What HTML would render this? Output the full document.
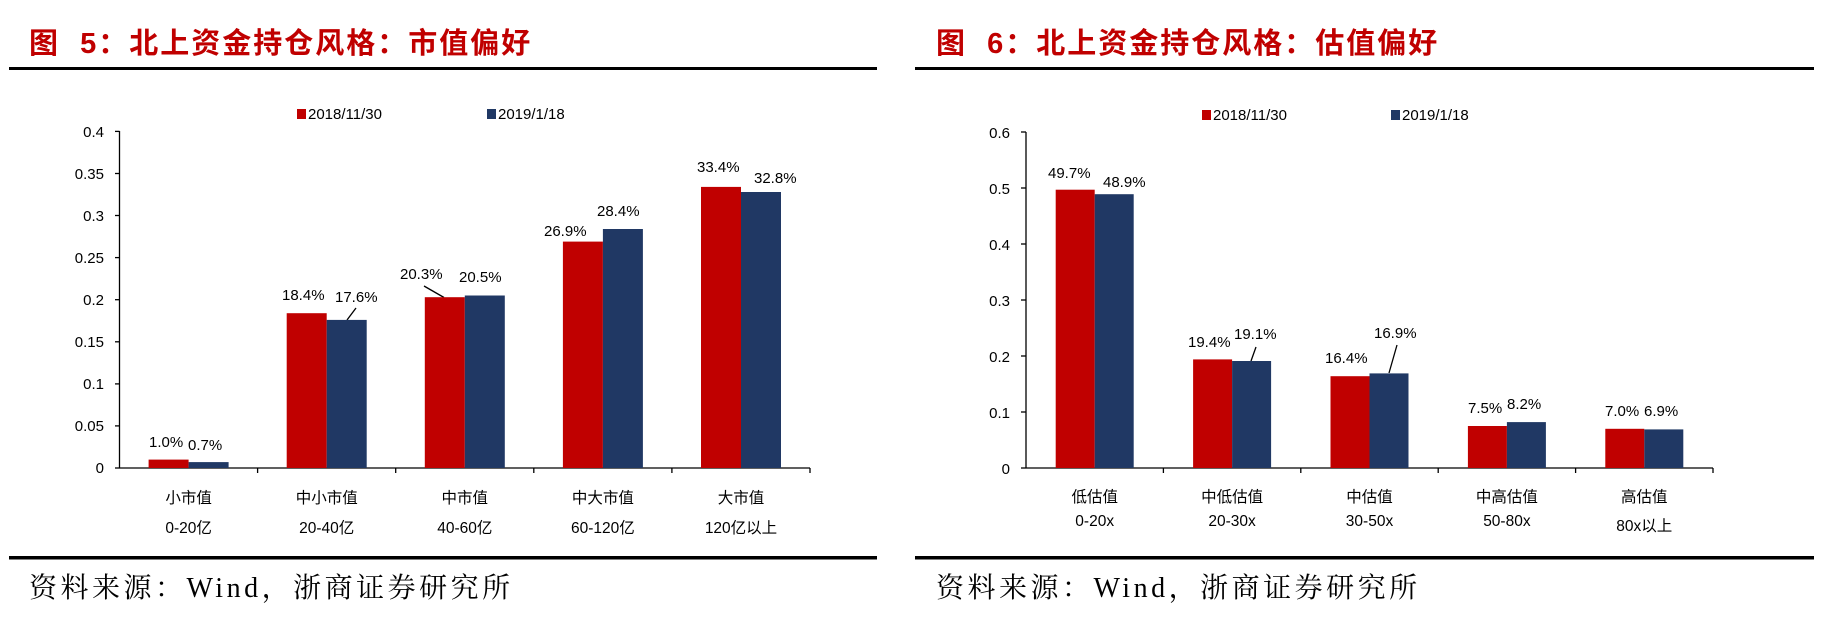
<!DOCTYPE html>
<html><head><meta charset="utf-8"><style>
html,body{margin:0;padding:0;background:#fff;width:1846px;height:632px;overflow:hidden}
svg{display:block}
text{font-family:"Liberation Sans","Noto Sans CJK SC",sans-serif;fill:#000}
.t{font-size:29px;font-weight:bold;fill:#C00000;letter-spacing:2px;white-space:pre}
.v{font-size:15px}
.k{font-size:15px}
.c{font-size:15.5px}
.s{font-family:"Liberation Serif","Noto Serif CJK SC",serif;font-size:28px;letter-spacing:3.5px}
.r{fill:#C00000}.b{fill:#203864}
</style></head><body>
<svg width="1846" height="632" viewBox="0 0 1846 632" xmlns="http://www.w3.org/2000/svg">
<!-- LEFT -->
<text x="29" y="53" class="t" xml:space="preserve">图  5：北上资金持仓风格：市值偏好</text>
<rect x="9" y="67" width="868" height="3" fill="#000"/>
<rect x="9" y="556" width="868" height="3.5" fill="#000"/>
<text x="29" y="597" class="s">资料来源：Wind，浙商证券研究所</text>
<rect x="297" y="109" width="9" height="10" class="r"/><text x="308" y="119" class="k">2018/11/30</text>
<rect x="487" y="109" width="9" height="10" class="b"/><text x="498" y="119" class="k">2019/1/18</text>
<g stroke="#000" stroke-width="1.3">
<line x1="119.5" y1="131" x2="119.5" y2="468"/><line x1="119.5" y1="468" x2="810" y2="468"/>
<line x1="115" y1="131.4" x2="119.5" y2="131.4"/><line x1="115" y1="173.5" x2="119.5" y2="173.5"/><line x1="115" y1="215.5" x2="119.5" y2="215.5"/><line x1="115" y1="257.6" x2="119.5" y2="257.6"/><line x1="115" y1="299.7" x2="119.5" y2="299.7"/><line x1="115" y1="341.8" x2="119.5" y2="341.8"/><line x1="115" y1="383.9" x2="119.5" y2="383.9"/><line x1="115" y1="425.9" x2="119.5" y2="425.9"/><line x1="115" y1="468" x2="119.5" y2="468"/>
<line x1="257.6" y1="468" x2="257.6" y2="473"/><line x1="395.7" y1="468" x2="395.7" y2="473"/><line x1="533.8" y1="468" x2="533.8" y2="473"/><line x1="671.9" y1="468" x2="671.9" y2="473"/><line x1="810" y1="468" x2="810" y2="473"/>
<line x1="356" y1="308" x2="347" y2="320"/><line x1="424" y1="286" x2="444" y2="297.5"/>
</g>
<g class="k" text-anchor="end">
<text x="104" y="137">0.4</text><text x="104" y="179">0.35</text><text x="104" y="221">0.3</text><text x="104" y="263">0.25</text><text x="104" y="305">0.2</text><text x="104" y="347">0.15</text><text x="104" y="389">0.1</text><text x="104" y="431">0.05</text><text x="104" y="473">0</text>
</g>
<rect x="148.6" y="459.6" width="40" height="8.4" class="r"/><rect x="188.6" y="462.1" width="40" height="5.9" class="b"/>
<rect x="286.7" y="313.2" width="40" height="154.8" class="r"/><rect x="326.7" y="319.9" width="40" height="148.1" class="b"/>
<rect x="424.8" y="297.2" width="40" height="170.8" class="r"/><rect x="464.8" y="295.5" width="40" height="172.5" class="b"/>
<rect x="562.9" y="241.6" width="40" height="226.4" class="r"/><rect x="602.9" y="229" width="40" height="239" class="b"/>
<rect x="701" y="186.9" width="40" height="281.1" class="r"/><rect x="741" y="192" width="40" height="276" class="b"/>
<g class="v">
<text x="149" y="447">1.0%</text><text x="188" y="450">0.7%</text>
<text x="282" y="300">18.4%</text><text x="335" y="302">17.6%</text>
<text x="400" y="279">20.3%</text><text x="459" y="282">20.5%</text>
<text x="544" y="236">26.9%</text><text x="597" y="216">28.4%</text>
<text x="697" y="172">33.4%</text><text x="754" y="183">32.8%</text>
</g>
<g class="c" text-anchor="middle">
<text x="188.6" y="503">小市值</text><text x="188.6" y="533">0-20亿</text>
<text x="326.7" y="503">中小市值</text><text x="326.7" y="533">20-40亿</text>
<text x="464.8" y="503">中市值</text><text x="464.8" y="533">40-60亿</text>
<text x="602.9" y="503">中大市值</text><text x="602.9" y="533">60-120亿</text>
<text x="741" y="503">大市值</text><text x="741" y="533">120亿以上</text>
</g>
<!-- RIGHT -->
<text x="936" y="53" class="t" xml:space="preserve">图  6：北上资金持仓风格：估值偏好</text>
<rect x="915" y="67" width="899" height="3" fill="#000"/>
<rect x="915" y="556" width="899" height="3.5" fill="#000"/>
<text x="936" y="597" class="s">资料来源：Wind，浙商证券研究所</text>
<rect x="1202" y="110" width="9" height="10" class="r"/><text x="1213" y="120" class="k">2018/11/30</text>
<rect x="1391" y="110" width="9" height="10" class="b"/><text x="1402" y="120" class="k">2019/1/18</text>
<g stroke="#000" stroke-width="1.3">
<line x1="1026" y1="132" x2="1026" y2="468"/><line x1="1026" y1="468" x2="1713" y2="468"/>
<line x1="1021" y1="132" x2="1026" y2="132"/><line x1="1021" y1="188" x2="1026" y2="188"/><line x1="1021" y1="244" x2="1026" y2="244"/><line x1="1021" y1="300" x2="1026" y2="300"/><line x1="1021" y1="356" x2="1026" y2="356"/><line x1="1021" y1="412" x2="1026" y2="412"/><line x1="1021" y1="468" x2="1026" y2="468"/>
<line x1="1163.4" y1="468" x2="1163.4" y2="473"/><line x1="1300.8" y1="468" x2="1300.8" y2="473"/><line x1="1438.2" y1="468" x2="1438.2" y2="473"/><line x1="1575.6" y1="468" x2="1575.6" y2="473"/><line x1="1713" y1="468" x2="1713" y2="473"/>
<line x1="1256" y1="347" x2="1251" y2="361"/><line x1="1397" y1="345" x2="1389" y2="373"/>
</g>
<g class="k" text-anchor="end">
<text x="1010" y="138">0.6</text><text x="1010" y="194">0.5</text><text x="1010" y="250">0.4</text><text x="1010" y="306">0.3</text><text x="1010" y="362">0.2</text><text x="1010" y="418">0.1</text><text x="1010" y="474">0</text>
</g>
<rect x="1055.7" y="189.7" width="39" height="278.3" class="r"/><rect x="1094.7" y="194.2" width="39" height="273.8" class="b"/>
<rect x="1193.1" y="359.4" width="39" height="108.6" class="r"/><rect x="1232.1" y="361" width="39" height="107" class="b"/>
<rect x="1330.5" y="376.2" width="39" height="91.8" class="r"/><rect x="1369.5" y="373.4" width="39" height="94.6" class="b"/>
<rect x="1467.9" y="426" width="39" height="42" class="r"/><rect x="1506.9" y="422.1" width="39" height="45.9" class="b"/>
<rect x="1605.3" y="428.8" width="39" height="39.2" class="r"/><rect x="1644.3" y="429.4" width="39" height="38.6" class="b"/>
<g class="v">
<text x="1048" y="178">49.7%</text><text x="1103" y="187">48.9%</text>
<text x="1188" y="347">19.4%</text><text x="1234" y="339">19.1%</text>
<text x="1325" y="363">16.4%</text><text x="1374" y="338">16.9%</text>
<text x="1468" y="413">7.5%</text><text x="1507" y="409">8.2%</text>
<text x="1605" y="416">7.0%</text><text x="1644" y="416">6.9%</text>
</g>
<g class="c" text-anchor="middle">
<text x="1094.7" y="502">低估值</text><text x="1094.7" y="526">0-20x</text>
<text x="1232.1" y="502">中低估值</text><text x="1232.1" y="526">20-30x</text>
<text x="1369.5" y="502">中估值</text><text x="1369.5" y="526">30-50x</text>
<text x="1506.9" y="502">中高估值</text><text x="1506.9" y="526">50-80x</text>
<text x="1644.3" y="502">高估值</text><text x="1644.3" y="531">80x以上</text>
</g>
</svg>
</body></html>
